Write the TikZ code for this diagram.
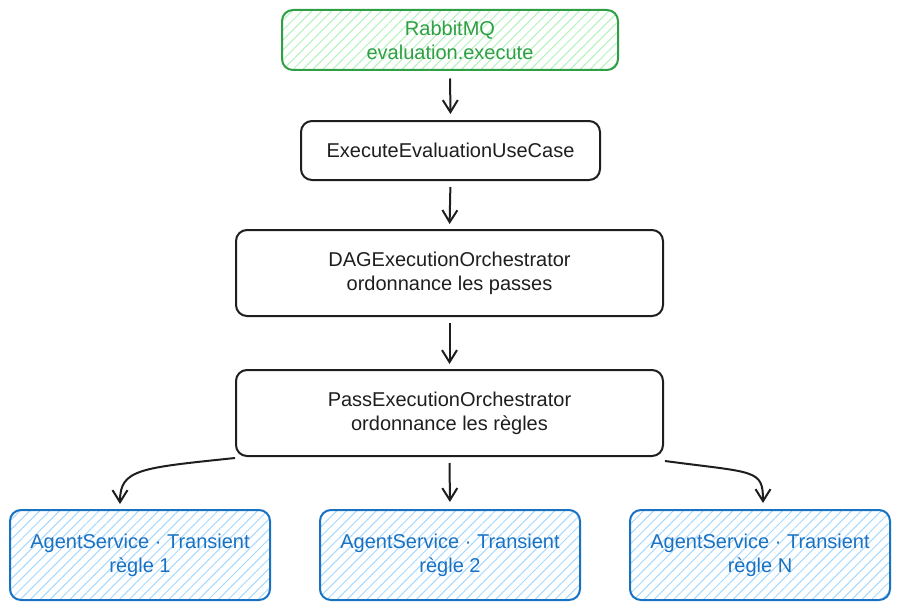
\documentclass[tikz,border=0pt]{standalone}
\usepackage{fontspec}
\setmainfont{Liberation Sans}
\usetikzlibrary{arrows.meta,patterns.meta}

\definecolor{ink}{HTML}{1E1E1E}
\definecolor{qgreen}{HTML}{2F9E44}
\definecolor{qfill}{HTML}{B2F2BB}
\definecolor{sblue}{HTML}{1971C2}
\definecolor{sfill}{HTML}{A5D8FF}

\begin{document}
\begin{tikzpicture}[x=1pt, y=-1pt,
				every node/.style={align=center, inner sep=0pt, font=\fontsize{20}{24}\selectfont, text=ink},
				box/.style={draw=ink, line width=2pt, rounded corners=11pt},
				queue/.style={box, draw=qgreen, text=qgreen, pattern={Lines[angle=45,distance=7pt,line width=1pt]}, pattern color=qfill},
				agent/.style={box, draw=sblue, text=sblue, pattern={Lines[angle=45,distance=7pt,line width=1pt]}, pattern color=sfill, minimum width=260pt, minimum height=90pt},
				flow/.style={draw=ink, line width=2pt, -{Straight Barb[length=12pt,width=15pt]}}
				]
				\useasboundingbox (0,0) rectangle (900,610);
				% chaine principale
				\node[queue, minimum width=336pt, minimum height=60pt] (mq) at (450,40) {RabbitMQ\\evaluation.execute};
				\node[box, minimum width=299pt, minimum height=59pt] (usecase) at (450.5,150.5) {ExecuteEvaluationUseCase};
				\node[box, minimum width=427pt, minimum height=86pt] (dag) at (449.5,273) {DAGExecutionOrchestrator\\ordonnance les passes};
				\node[box, minimum width=427pt, minimum height=86pt] (pass) at (449.5,413) {PassExecutionOrchestrator\\ordonnance les règles};
				% agents
				\node[agent] (agent1) at (140,555) {AgentService · Transient\\règle 1};
				\node[agent] (agent2) at (450,555) {AgentService · Transient\\règle 2};
				\node[agent] (agent3) at (760,555) {AgentService · Transient\\règle N};

				\draw[flow, shorten <=8pt, shorten >=6pt] (mq.south) -- (usecase.north);
				\draw[flow, shorten <=6pt, shorten >=5pt] (usecase.south) -- (dag.north);
				\draw[flow, shorten <=6pt, shorten >=5pt] (dag.south) -- (pass.north);
				\draw[flow, shorten <=6pt, shorten >=7pt] (pass.south) -- (agent2.north);
				\draw[flow, shorten >=5pt] ([yshift=-1pt]pass.south west) .. controls +(-95,10) and +(0,-40) .. ([xshift=-20pt]agent1.north);
				\draw[flow, shorten >=6pt] ([xshift=1pt,yshift=-4pt]pass.south east) .. controls +(90,12) and +(0,-40) .. ([xshift=3pt]agent3.north);
			\end{tikzpicture}
\end{document}
